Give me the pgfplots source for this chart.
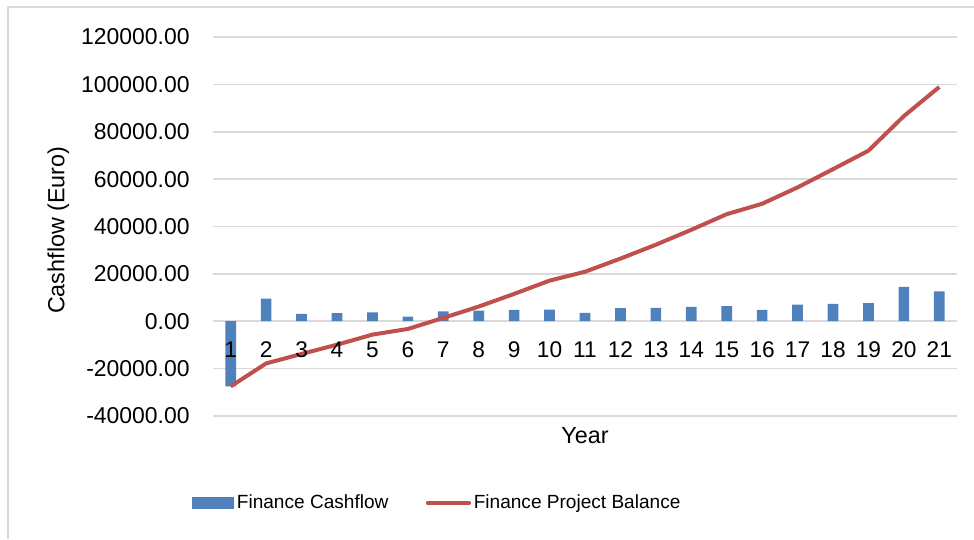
\documentclass[border=0pt]{standalone}
\usepackage{pgfplots}
\pgfplotsset{compat=1.18}
\usepackage{fontspec}
\setmainfont{Liberation Sans}

\definecolor{barblue}{HTML}{4F81BD}
\definecolor{linered}{HTML}{C0504D}
\definecolor{gridgray}{HTML}{D9D9D9}

\pgfplotsset{
  chartframe/.style={
    at={(159.75pt,92.25pt)}, anchor=south west,
    width=558pt, height=284.25pt, scale only axis,
    xmin=0.5, xmax=21.5,
    ymin=-40000, ymax=120000,
    xtick={1,...,21},
    hide obscured x ticks=false,
    major tick length=0pt,
    /pgf/number format/assume math mode=true,
    xticklabel style={font=\fontsize{17}{20.4}\selectfont, yshift=-12pt},
    clip=false,
  },
}

\begin{document}
\begin{tikzpicture}
  % page is 974x539 px, 1px = 0.75pt
  \useasboundingbox (0,0) rectangle (730.5pt,404.25pt);
  \begin{axis}[
      chartframe,
      xticklabels={},
      ytick={-40000,-20000,...,120000},
      scaled y ticks=false,
      axis x line*=middle,
      axis y line*=left,
      x axis line style={draw=gridgray, line width=1.2pt, -},
      y axis line style={draw=none},
      ymajorgrids,
      grid style={draw=gridgray, line width=1.2pt},
      yticklabel style={/pgf/number format/fixed, /pgf/number format/fixed zerofill,
        /pgf/number format/precision=2, /pgf/number format/1000 sep={}},
      yticklabel style={font=\fontsize{17.2}{20.6}\selectfont, xshift=-14pt},
      xlabel={Year},
      ylabel={Cashflow (Euro)},
      label style={font=\fontsize{17.5}{21}\selectfont},
      xlabel style={at={(axis description cs:0.5,-0.053)}, anchor=center},
      ylabel style={at={(axis description cs:-0.208,0.49)}, anchor=center},
      legend columns=2,
      legend style={draw=none, fill=none, font=\fontsize{14.3}{17}\selectfont,
        at={(axis description cs:0.302,-0.2296)}, anchor=center,
        /tikz/every even column/.append style={column sep=26pt}},
    ]

    \addplot[ybar, bar width=8pt, fill=barblue, draw=none,
      legend image code/.code={\fill[barblue] (0pt,-4.5pt) rectangle (31.5pt,4.5pt);}]
      coordinates {
        (1,-27500) (2,9500) (3,3100) (4,3400) (5,3700) (6,1900) (7,4200)
        (8,4500) (9,4800) (10,4950) (11,3500) (12,5500) (13,5650) (14,6050)
        (15,6350) (16,4800) (17,7000) (18,7300) (19,7700) (20,14500) (21,12650)
      };
    \addlegendentry{Finance Cashflow}

    \addplot[sharp plot, linered, line width=3pt, mark=none,
      legend image code/.code={\draw[linered, line width=3pt, line cap=round] (0pt,0pt) -- (31pt,0pt);}]
      coordinates {
        (1,-27500) (2,-17800) (3,-13800) (4,-9900) (5,-5650) (6,-3250) (7,1400)
        (8,6200) (9,11550) (10,17150) (11,20900) (12,26450) (13,32300) (14,38600)
        (15,45200) (16,49600) (17,56500) (18,64200) (19,72000) (20,86600) (21,98900)
      };
    \addlegendentry{Finance Project Balance}
  \end{axis}
  % second axis with the same frame: only the year labels, drawn above the data
  \begin{axis}[
      chartframe,
      axis x line*=middle,
      axis y line=none,
      x axis line style={draw=none},
    ]
  \end{axis}
  % chart area border (only top and left are inside the picture)
  \draw[gridgray, line width=1.2pt] (6pt,0pt) -- (6pt,399pt) -- (730.5pt,399pt);
\end{tikzpicture}
\end{document}
